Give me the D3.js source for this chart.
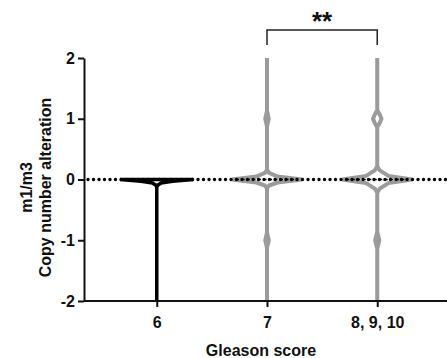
<!DOCTYPE html>
<html>
<head>
<meta charset="utf-8">
<script src="https://cdn.jsdelivr.net/npm/d3@7"></script>
<style>
  body { margin: 0; background: #fff; }
  svg text { font-family: "Liberation Sans", Arial, sans-serif; font-weight: bold; fill: #111; }
  .as path, .as line { stroke: #111; stroke-width: 2; }
</style>
</head>
<body>
<div id="grafiek"></div>
<script>
// categories and tick values
const groepen = ["6", "7", "8, 9, 10"];
const yTicks = [-2, -1, 0, 1, 2];

// violin profiles: [value, relative density]
const dichtheid6 = [[-2, 0], [-0.13, 0], [-0.09, 0.03], [-0.06, 0.12], [-0.03, 0.45], [0, 1.05]];
const dichtheid7 = [[-2, 0], [-1.13, 0], [-1, 0.05], [-0.87, 0], [-0.14, 0], [-0.1, 0.06], [-0.05, 0.3], [0, 1],
  [0.05, 0.3], [0.11, 0.06], [0.16, 0], [0.87, 0], [1, 0.05], [1.13, 0], [2, 0]];
const dichtheid8 = [[-2, 0], [-1.14, 0], [-1, 0.06], [-0.86, 0], [-0.22, 0], [-0.15, 0.07], [-0.06, 0.32], [0, 1],
  [0.06, 0.32], [0.15, 0.07], [0.22, 0], [0.86, 0], [0.93, 0.07], [1, 0.12], [1.07, 0.07], [1.14, 0], [2, 0]];
const profielen = [dichtheid6, dichtheid7, dichtheid8];

// significance bracket between two groups
const significantie = { van: "7", tot: "8, 9, 10", label: "**" };

const kleuren = ["#000", "#9b9b9b", "#9b9b9b"];

const width = 447;
const height = 358;

const x = d3.scalePoint()
  .domain(groepen)
  .range([84, 450])
  .padding(0.66);
const y = d3.scaleLinear()
  .domain([-2, 2])
  .range([301, 58]);
const breedte = d3.scaleLinear()
  .domain([0, 1])
  .range([0, 35]);

const svg = d3.select("#grafiek")
  .append("svg")
  .attr("width", width)
  .attr("height", height);

// Violins
profielen.forEach((profiel, i) => {
  const cx = x(groepen[i]);
  const vorm = d3.area()
    .y(d => y(d[0]))
    .x0(d => cx - breedte(d[1]))
    .x1(d => cx + breedte(d[1]));

  svg.append("path")
    .datum(profiel)
    .attr("d", vorm)
    .attr("fill", "#fff")
    .attr("stroke", kleuren[i])
    .attr("stroke-width", i === 0 ? 3.5 : 4)
    .attr("stroke-linejoin", "miter");

  // mediaan
  const mediaan = profiel.find(d => d[0] === 0);
  svg.append("line")
    .attr("x1", cx - breedte(mediaan[1]) + 4)
    .attr("x2", cx + breedte(mediaan[1]) - 4)
    .attr("y1", y(0))
    .attr("y2", y(0))
    .attr("stroke", "#000")
    .attr("stroke-width", 1.5)
    .attr("stroke-dasharray", "3,2.5");
});

// Stippellijn op 0
svg.append("line")
  .attr("x1", x.range()[0] + 4)
  .attr("x2", width)
  .attr("y1", y(0))
  .attr("y2", y(0))
  .attr("stroke", "#000")
  .attr("stroke-width", 3.4)
  .attr("stroke-linecap", "round")
  .attr("stroke-dasharray", "0,5.5");

// Y-AS
svg.append("g")
  .attr("class", "as")
  .attr("transform", `translate(84,0)`)
  .call(d3.axisLeft(y)
    .tickValues(yTicks)
    .tickFormat(d => String(d))
    .tickSize(6)
    .tickPadding(3)
    .tickSizeOuter(0))
  .selectAll("text")
  .style("font-size", "16px");

// X-AS
const xAs = svg.append("g")
  .attr("class", "as")
  .attr("transform", `translate(0,${y(-2)})`)
  .call(d3.axisBottom(x).tickSize(6).tickPadding(10).tickSizeOuter(0));
xAs.select(".domain").attr("d", `M84,0H${width}`);
xAs.selectAll("text").style("font-size", "16px");
xAs.selectAll(".tick line").attr("stroke", (d, i) => kleuren[i]).attr("stroke-width", 2.5);

// As-titels
svg.append("text")
  .attr("x", 261)
  .attr("y", 356)
  .attr("text-anchor", "middle")
  .style("font-size", "16px")
  .text("Gleason score");

const yTitel = svg.append("text")
  .attr("transform", `translate(0,${y(0) + 8}) rotate(-90)`)
  .attr("text-anchor", "middle")
  .style("font-size", "16px");
yTitel.append("tspan").attr("x", 0).attr("y", 32).text("m1/m3");
yTitel.append("tspan").attr("x", 0).attr("y", 51).text("Copy number alteration");

// Significantie
const x1 = x(significantie.van);
const x2 = x(significantie.tot);
svg.append("path")
  .attr("d", `M${x1},45V30H${x2}V45`)
  .attr("fill", "none")
  .attr("stroke", "#222")
  .attr("stroke-width", 1.5);
svg.append("text")
  .attr("x", (x1 + x2) / 2)
  .attr("y", 30)
  .attr("text-anchor", "middle")
  .style("font-size", "26px")
  .text(significantie.label);
</script>
</body>
</html>
